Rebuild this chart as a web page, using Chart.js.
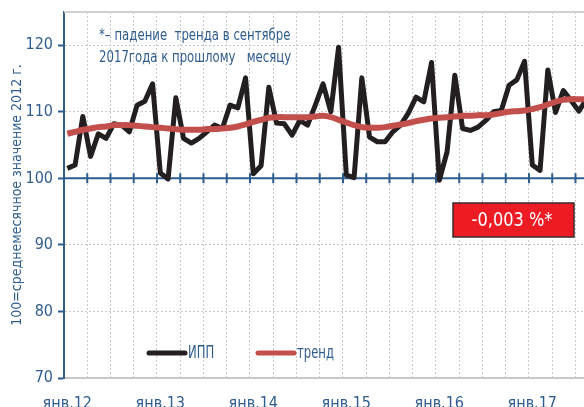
<!DOCTYPE html>
<html>
<head>
<meta charset="utf-8">
<script src="https://cdn.jsdelivr.net/npm/chart.js@4"></script>
<style>
  body { margin: 0; background: #fff; overflow: hidden; }
</style>
</head>
<body>
<canvas id="myChart" width="584" height="407"></canvas>
<script>
// data, month index 0 = Jan 2012
const ippValues = [
  101.5, 102.0, 109.3, 103.3, 106.7, 106.0, 108.2, 108.0, 107.0, 111.0, 111.6, 114.2,
  100.8, 99.9, 112.1, 106.0, 105.3, 106.0, 107.0, 108.0, 107.5, 111.0, 110.6, 115.1,
  100.7, 101.9, 113.7, 108.3, 108.2, 106.5, 108.7, 108.0, 111.0, 114.2, 110.0, 119.7,
  100.5, 100.1, 115.1, 106.2, 105.5, 105.5, 107.0, 108.0, 109.8, 112.2, 111.5, 117.4,
  99.7, 104.0, 115.5, 107.5, 107.2, 107.7, 108.7, 110.0, 110.2, 114.0, 114.8, 117.6,
  102.0, 101.2, 116.3, 109.9, 113.2, 111.7, 110.1, 111.9
];
const trendValues = [
  106.7, 107.0, 107.3, 107.5, 107.7, 107.8, 108.0, 108.0, 108.0, 107.9, 107.8, 107.7,
  107.6, 107.5, 107.4, 107.3, 107.3, 107.3, 107.4, 107.4, 107.5, 107.6, 107.8, 108.1,
  108.5, 108.8, 109.1, 109.2, 109.2, 109.2, 109.2, 109.2, 109.3, 109.4, 109.2, 108.8,
  108.4, 108.0, 107.7, 107.6, 107.6, 107.7, 107.9, 108.1, 108.3, 108.6, 108.8, 109.0,
  109.1, 109.2, 109.3, 109.4, 109.4, 109.5, 109.5, 109.6, 109.8, 110.0, 110.1, 110.2,
  110.4, 110.7, 111.1, 111.5, 111.8, 111.9, 111.9, 111.9
];
const seriesNames = ["ИПП", "тренд"];
const tickLabels = ["янв.12", "янв.13", "янв.14", "янв.15", "янв.16", "янв.17"];
const yTicks = [70, 80, 90, 100, 110, 120];
const yTitle = "100=среднемесячное значение 2012 г.";
const noteLines = ["*– падение  тренда в сентябре", "2017года к прошлому   месяцу"];
const boxText = "-0,003 %*";

const blue = "#2f5d8e";
const gridColor = "#c9c9c9";
const font = "'Liberation Sans Narrow', 'DejaVu Sans Condensed', sans-serif";

function toPoints(arr) {
  return arr.map(function (v, i) { return { x: i, y: v }; });
}

// narrow text: squeeze horizontally, keep height
function squeezed(ctx, text, x, y, sx) {
  ctx.save();
  ctx.translate(x, y);
  ctx.scale(sx, 1);
  ctx.fillText(text, 0, 0);
  ctx.restore();
}

const decor = {
  id: "decor",
  beforeDatasetsDraw(chart) {
    const ctx = chart.ctx, a = chart.chartArea;
    const xs = chart.scales.x, ys = chart.scales.y;
    ctx.save();
    // top border
    ctx.strokeStyle = "#d0d0d0";
    ctx.lineWidth = 2;
    ctx.beginPath();
    ctx.moveTo(a.left, a.top);
    ctx.lineTo(a.right, a.top);
    ctx.stroke();
    // blue line at 100 with tick marks
    const y100 = ys.getPixelForValue(100);
    ctx.strokeStyle = blue;
    ctx.lineWidth = 2;
    ctx.beginPath();
    ctx.moveTo(a.left, y100);
    ctx.lineTo(a.right, y100);
    xs.ticks.forEach(function (t) {
      const px = xs.getPixelForValue(t.value);
      ctx.moveTo(px, y100 - 5);
      ctx.lineTo(px, y100 + 5);
    });
    ctx.stroke();
    ctx.restore();
  },
  afterDraw(chart) {
    const ctx = chart.ctx;
    ctx.save();
    // note
    ctx.fillStyle = blue;
    ctx.font = "16.5px " + font;
    ctx.textBaseline = "middle";
    ctx.textAlign = "left";
    squeezed(ctx, noteLines[0], 99, 36, 0.79);
    squeezed(ctx, noteLines[1], 99, 58, 0.79);
    // red box
    ctx.fillStyle = "#ed1c24";
    ctx.fillRect(453, 203, 121, 34);
    ctx.strokeStyle = "#3b2b2b";
    ctx.lineWidth = 1.5;
    ctx.strokeRect(453, 203, 121, 34);
    ctx.fillStyle = "#fff";
    ctx.font = "20px " + font;
    ctx.textAlign = "center";
    squeezed(ctx, boxText, 512, 221, 0.9);
    // legend
    const pos = [149, 258];
    chart.data.datasets.forEach(function (ds, i) {
      ctx.strokeStyle = ds.borderColor;
      ctx.lineWidth = 5;
      ctx.lineCap = "round";
      ctx.beginPath();
      ctx.moveTo(pos[i], 353);
      ctx.lineTo(pos[i] + 36, 353);
      ctx.stroke();
      ctx.fillStyle = blue;
      ctx.font = "17px " + font;
      ctx.textAlign = "left";
      squeezed(ctx, ds.label, pos[i] + 39, 354, 0.76);
    });
    ctx.restore();
  }
};

new Chart("myChart", {
  type: "line",
  data: {
    datasets: [{
      label: seriesNames[0],
      data: toPoints(ippValues),
      borderColor: "#231f20",
      borderWidth: 5,
      borderJoinStyle: "round",
      pointRadius: 0,
      tension: 0,
      order: 1
    }, {
      label: seriesNames[1],
      data: toPoints(trendValues),
      borderColor: "#c24f4b",
      borderWidth: 6,
      pointRadius: 0,
      tension: 0.4,
      order: 0
    }]
  },
  options: {
    responsive: false,
    animation: false,
    layout: { padding: { top: 12, right: 0, left: 0, bottom: 0 } },
    plugins: {
      legend: { display: false },
      tooltip: { enabled: false }
    },
    scales: {
      x: {
        type: "linear",
        min: -0.43,
        max: 66.67,
        afterBuildTicks: function (s) {
          const t = [];
          for (let v = s.min; v <= s.max; v += 3) t.push({ value: v });
          s.ticks = t;
        },
        afterFit: function (s) {
          s.height = 29;
          s.paddingLeft = 0;
          s.paddingRight = 0;
        },
        grid: { color: gridColor, lineWidth: 1, drawTicks: false },
        border: { color: "#c8c8c8", width: 2, dash: [2, 2] },
        ticks: {
          autoSkip: false,
          maxRotation: 0,
          padding: 16,
          labelOffset: 3.3,
          color: blue,
          font: { family: font, size: 16 },
          callback: function (v, i) { return i % 4 === 0 ? tickLabels[i / 4] : ""; }
        }
      },
      y: {
        min: 70,
        max: 125,
        afterBuildTicks: function (s) {
          s.ticks = yTicks.map(function (v) { return { value: v }; });
        },
        afterFit: function (s) {
          s.width = 64;
          s.paddingTop = 0;
          s.paddingBottom = 0;
        },
        grid: { color: gridColor, lineWidth: 1, drawTicks: true, tickLength: 6, tickColor: blue, tickWidth: 2 },
        border: { color: blue, width: 2, dash: [2, 2] },
        ticks: {
          padding: 5,
          color: blue,
          font: { family: font, size: 16 }
        },
        title: {
          display: true,
          text: yTitle,
          color: blue,
          font: { family: font, size: 14 },
          padding: { top: 9, bottom: 0 }
        }
      }
    }
  },
  plugins: [decor]
});
</script>
</body>
</html>
